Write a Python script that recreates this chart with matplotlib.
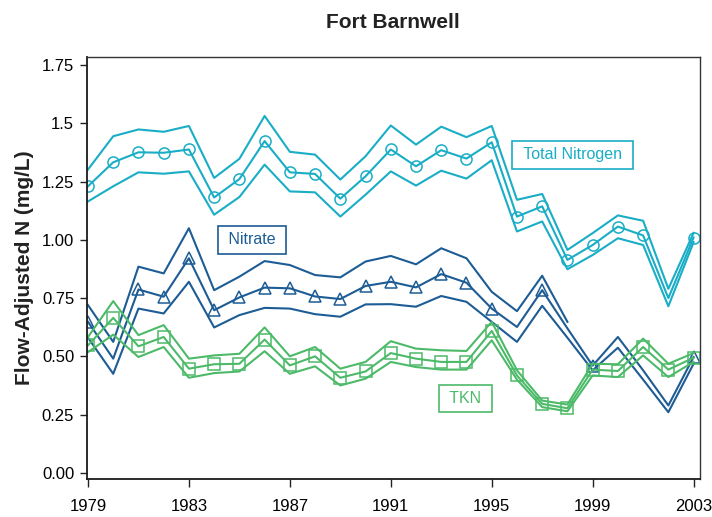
import numpy as np
import matplotlib
matplotlib.use("Agg")
import matplotlib.pyplot as plt

nan = np.nan
years = list(range(1979, 2004))

tn_mid = [1.23, 1.333, 1.376, 1.374, 1.388, 1.182, 1.261, 1.424, 1.290, 1.283, 1.177, 1.273, 1.388,
          1.316, 1.385, 1.349, 1.419, 1.100, 1.144, 0.914, 0.978, 1.057, 1.019, 0.75, 1.01]
tn_hi = [1.302, 1.445, 1.474, 1.464, 1.489, 1.266, 1.348, 1.532, 1.378, 1.366, 1.259, 1.359, 1.491,
         1.409, 1.486, 1.441, 1.489, 1.172, 1.197, 0.957, 1.029, 1.105, 1.082, 0.79, 1.03]
tn_lo = [1.165, 1.230, 1.290, 1.284, 1.294, 1.108, 1.184, 1.323, 1.208, 1.204, 1.100, 1.194, 1.294,
         1.233, 1.297, 1.263, 1.342, 1.036, 1.079, 0.874, 0.935, 1.007, 0.978, 0.715, 0.99]

no3_mid = [0.648, 0.49, 0.787, 0.756, 0.921, 0.698, 0.753, 0.795, 0.792, 0.757, 0.746, 0.802, 0.820,
           0.796, 0.853, 0.816, 0.705, 0.626, 0.784, 0.62, 0.46, 0.583, 0.44, 0.289, 0.497]
no3_hi = [0.72, 0.562, 0.885, 0.856, 1.050, 0.784, 0.842, 0.909, 0.892, 0.849, 0.839, 0.907, 0.931,
          0.895, 0.964, 0.921, 0.777, 0.694, 0.846, 0.648, nan, nan, nan, nan, nan]
no3_lo = [0.58, 0.425, 0.705, 0.684, 0.820, 0.624, 0.677, 0.708, 0.705, 0.681, 0.670, 0.723, 0.724,
          0.713, 0.759, 0.734, 0.648, 0.562, 0.717, 0.58, 0.44, 0.537, 0.40, 0.260, 0.468]

tkn_mid = [0.547, 0.665, 0.543, 0.583, 0.447, 0.466, 0.468, 0.572, 0.461, 0.5, 0.408, 0.435, 0.514,
           0.490, 0.476, 0.476, 0.609, 0.418, 0.296, 0.277, 0.443, 0.437, 0.540, 0.443, 0.494]
tkn_hi = [0.583, 0.737, 0.591, 0.634, 0.490, 0.504, 0.511, 0.624, 0.5, 0.540, 0.447, 0.476, 0.565,
          0.533, 0.526, 0.523, 0.648, 0.44, 0.310, 0.293, 0.468, 0.466, 0.576, 0.468, 0.514]
tkn_lo = [0.518, 0.593, 0.497, 0.540, 0.408, 0.428, 0.435, 0.522, 0.425, 0.457, 0.375, 0.404, 0.476,
          0.454, 0.443, 0.443, 0.569, 0.40, 0.282, 0.264, 0.418, 0.411, 0.504, 0.411, 0.476]

tn_marks = [i for i in range(25) if i != 23]
no3_marks = [0] + list(range(2, 17)) + [18, 20, 24]
tkn_marks = list(range(25))

yticks = [0.00, 0.25, 0.50, 0.75, 1.00, 1.25, 1.50, 1.75]
ytick_labels = ["0.00", "0.25", "0.50", "0.75", "1.00", "1.25", "1.5", "1.75"]
xticks = [1979, 1983, 1987, 1991, 1995, 1999, 2003]

C_TN = "#19adc6"
C_NO3 = "#1d5c94"
C_TKN = "#4cba68"

plt.rcParams['font.family'] = ['Liberation Sans', 'DejaVu Sans']

fig = plt.figure(figsize=(7.12, 5.17), dpi=100)
ax = fig.add_axes([0.1218, 0.0729, 0.8612, 0.8168])

def series(mid, hi, lo, color, marker, marks):
    ax.plot(years, hi, color=color, lw=1.5)
    ax.plot(years, lo, color=color, lw=1.5)
    ax.plot(years, mid, color=color, lw=1.5, marker=marker, markevery=marks,
            markersize=8, markerfacecolor='none', markeredgecolor=color, markeredgewidth=1.1)

series(tn_mid, tn_hi, tn_lo, C_TN, 'o', tn_marks)
series(no3_mid, no3_hi, no3_lo, C_NO3, '^', no3_marks)
series(tkn_mid, tkn_hi, tkn_lo, C_TKN, 's', tkn_marks)

box = dict(boxstyle='square,pad=0.4', fc='white', lw=1.2)
ax.text(1998.2, 1.366, " Total Nitrogen ", color=C_TN, fontsize=11.5, ha='center', va='center',
        bbox=dict(box, ec=C_TN))
ax.text(1985.5, 1.0, " Nitrate ", color=C_NO3, fontsize=11.5, ha='center', va='center',
        bbox=dict(box, ec=C_NO3))
ax.text(1993.95, 0.319, " TKN ", color=C_TKN, fontsize=11.5, ha='center', va='center',
        bbox=dict(box, ec=C_TKN))

ax.set_xlim(1978.95, 2003.25)
ax.set_ylim(-0.028, 1.785)
ax.set_yticks(yticks)
ax.set_yticklabels(ytick_labels)
ax.set_xticks(xticks)
ax.tick_params(axis='y', direction='out', length=5, width=1, labelsize=12, pad=4, color='#222222')
ax.tick_params(axis='x', direction='out', length=6, width=1, labelsize=12, pad=8, color='#222222')
for s in ['left', 'bottom']:
    ax.spines[s].set_color('#1a1a1a')
    ax.spines[s].set_linewidth(1.3)
for s in ['top', 'right']:
    ax.spines[s].set_color('#333333')
    ax.spines[s].set_linewidth(1.0)

ax.set_title("Fort Barnwell", fontsize=15, fontweight='bold', pad=21, color='#222222')
ax.set_ylabel("Flow-Adjusted N (mg/L)", fontsize=15, fontweight='bold', color='#222222', labelpad=6)

fig.savefig("out.png", dpi=100)
